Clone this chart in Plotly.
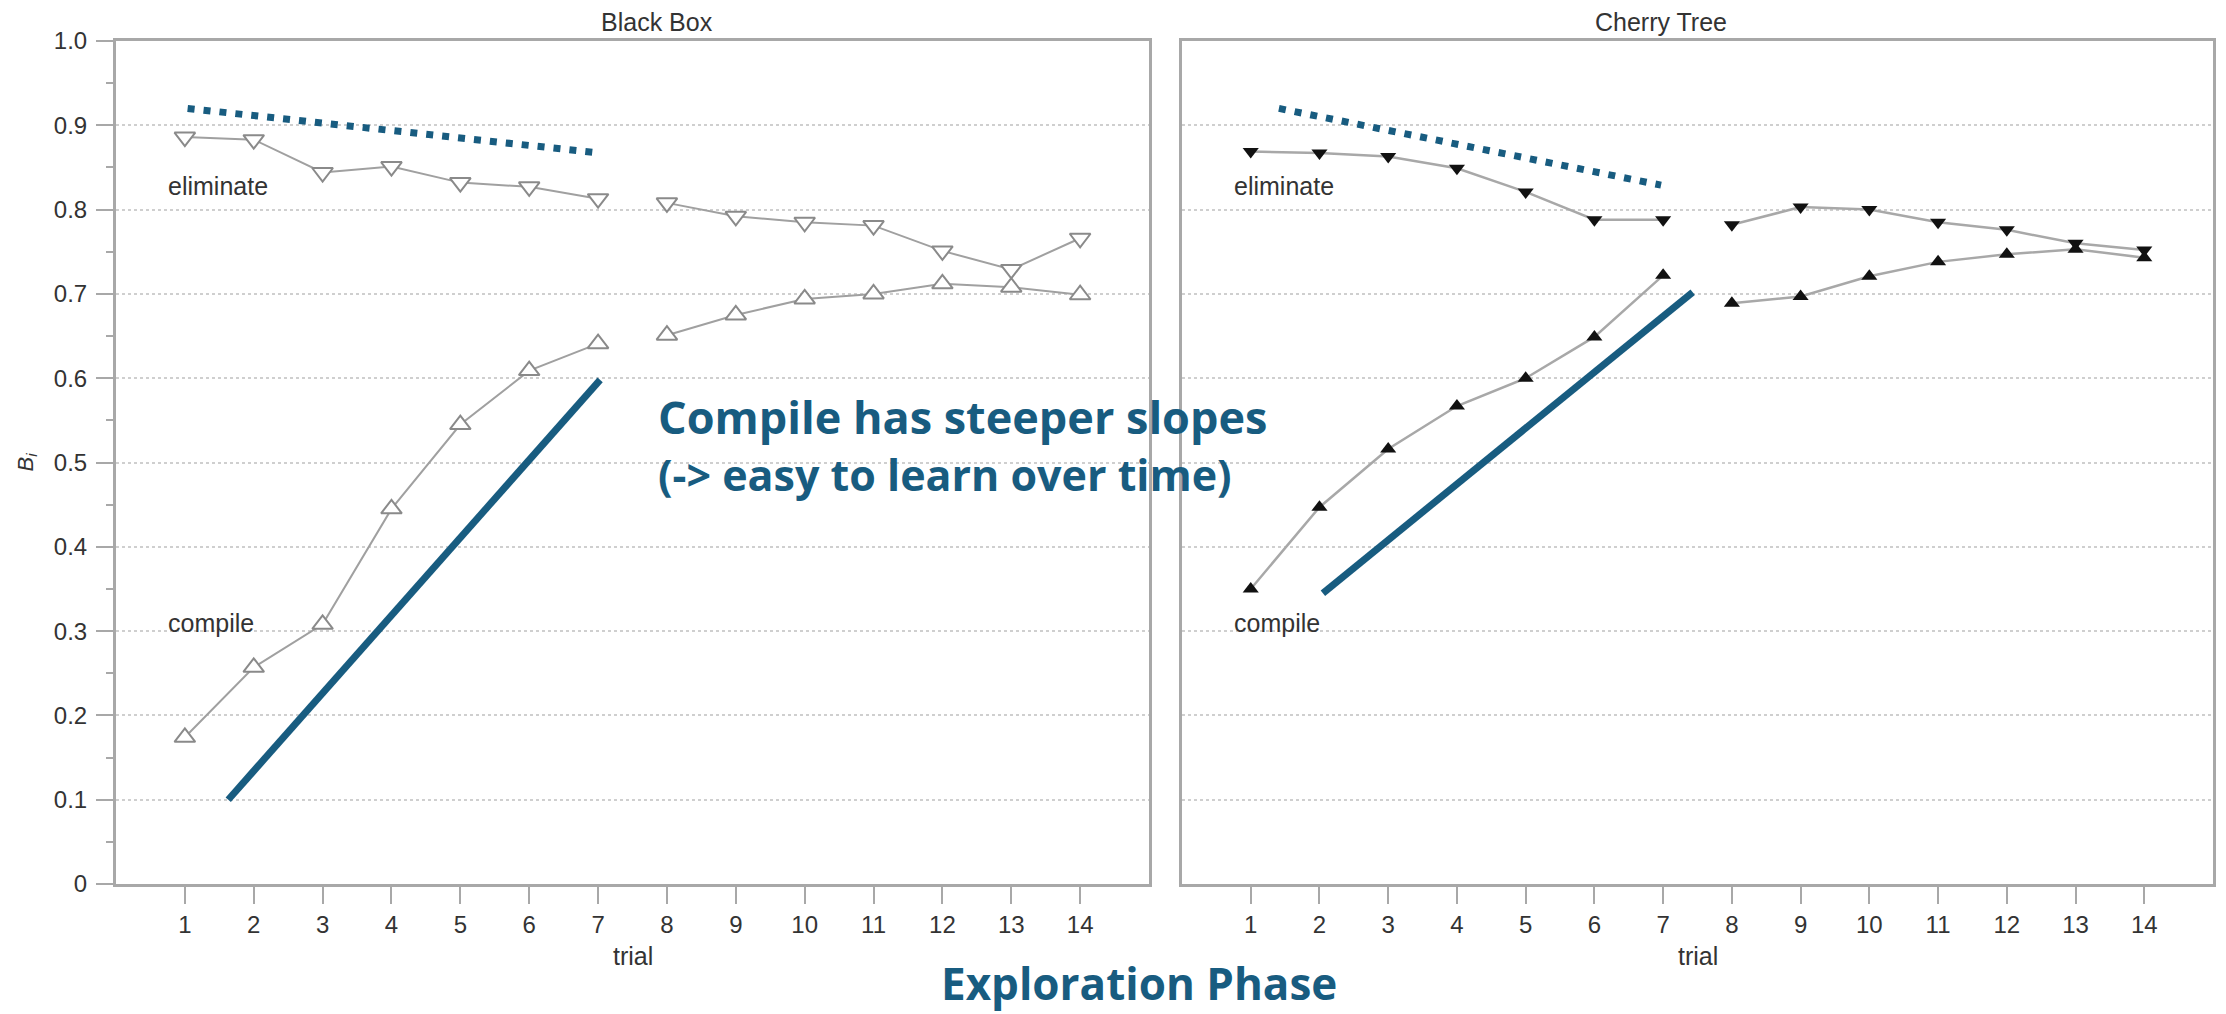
import plotly.graph_objects as go

# ---------------- data ----------------
trials = list(range(1, 15))
tick_y_vals = [0, 0.1, 0.2, 0.3, 0.4, 0.5, 0.6, 0.7, 0.8, 0.9, 1.0]
tick_y_text = ["0", "0.1", "0.2", "0.3", "0.4", "0.5", "0.6", "0.7", "0.8", "0.9", "1.0"]
minor_y_vals = [0.05, 0.15, 0.25, 0.35, 0.45, 0.55, 0.65, 0.75, 0.85, 0.95]

bb_eliminate = [0.886, 0.883, 0.844, 0.851, 0.832, 0.827, 0.813,
                0.808, 0.792, 0.785, 0.781, 0.751, 0.729, 0.766]
bb_compile = [0.174, 0.257, 0.308, 0.445, 0.545, 0.609, 0.641,
              0.651, 0.675, 0.694, 0.700, 0.712, 0.708, 0.699]
ct_eliminate = [0.869, 0.867, 0.863, 0.849, 0.821, 0.788, 0.788,
                0.782, 0.803, 0.800, 0.785, 0.776, 0.760, 0.752]
ct_compile = [0.350, 0.447, 0.516, 0.567, 0.600, 0.649, 0.722,
              0.689, 0.697, 0.721, 0.738, 0.747, 0.753, 0.743]

# hand-drawn trend strokes (x in trials, y in B_i)
bb_trend_x = [1.63, 7.03]
bb_trend_y = [0.100, 0.598]
bb_dotted_x = [1.04, 7.03]
bb_dotted_y = [0.920, 0.867]
ct_trend_x = [2.05, 7.43]
ct_trend_y = [0.345, 0.702]
ct_dotted_x = [1.41, 6.97]
ct_dotted_y = [0.920, 0.829]

panel_titles = ["Black Box", "Cherry Tree"]
series_labels = ["eliminate", "compile"]

BLUE = "#185C80"
GRAY_TXT = "#333333"
AXC = "#a8a8a8"

# the page body has an 8px margin; size the figure so it fits the window
PAGE_W, PAGE_H, OFF = 2226, 1014, 8
W, H = PAGE_W - 2 * OFF, PAGE_H - OFF


def px(x):
    return (x - OFF) / W


def py(y):
    return 1 - (y - OFF) / H


def split(vals):
    # phases: trials 1-7 and 8-14 drawn as separate segments
    return vals[:7] + [None] + vals[7:]


xs = trials[:7] + [None] + trials[7:]

fig = go.Figure()

# Black Box (open markers)
fig.add_trace(go.Scatter(x=xs, y=split(bb_eliminate), mode="lines+markers",
                         line=dict(color="#a0a0a0", width=2),
                         marker=dict(symbol="triangle-down", size=18, color="white",
                                     line=dict(color="#8a8a8a", width=2)),
                         xaxis="x", yaxis="y", showlegend=False))
fig.add_trace(go.Scatter(x=xs, y=split(bb_compile), mode="lines+markers",
                         line=dict(color="#a0a0a0", width=2),
                         marker=dict(symbol="triangle-up", size=18, color="white",
                                     line=dict(color="#8a8a8a", width=2)),
                         xaxis="x", yaxis="y", showlegend=False))
# Cherry Tree (filled markers)
fig.add_trace(go.Scatter(x=xs, y=split(ct_eliminate), mode="lines+markers",
                         line=dict(color="#a8a8a8", width=2.5),
                         marker=dict(symbol="triangle-down", size=14, color="#111111"),
                         xaxis="x2", yaxis="y2", showlegend=False))
fig.add_trace(go.Scatter(x=xs, y=split(ct_compile), mode="lines+markers",
                         line=dict(color="#a8a8a8", width=2.5),
                         marker=dict(symbol="triangle-up", size=14, color="#111111"),
                         xaxis="x2", yaxis="y2", showlegend=False))

# trend strokes
fig.add_trace(go.Scatter(x=bb_trend_x, y=bb_trend_y, mode="lines",
                         line=dict(color=BLUE, width=7), xaxis="x", yaxis="y",
                         showlegend=False))
fig.add_trace(go.Scatter(x=bb_dotted_x, y=bb_dotted_y, mode="lines",
                         line=dict(color=BLUE, width=7, dash="7px,9px"),
                         xaxis="x", yaxis="y", showlegend=False))
fig.add_trace(go.Scatter(x=ct_trend_x, y=ct_trend_y, mode="lines",
                         line=dict(color=BLUE, width=7), xaxis="x2", yaxis="y2",
                         showlegend=False))
fig.add_trace(go.Scatter(x=ct_dotted_x, y=ct_dotted_y, mode="lines",
                         line=dict(color=BLUE, width=7, dash="7px,9px"),
                         xaxis="x2", yaxis="y2", showlegend=False))

xdom1 = [px(116), px(1149)]
xdom2 = [px(1182), px(2213)]
ydom = [py(884), py(41)]

tickfont = dict(family="Liberation Sans, Arial, sans-serif", size=24, color=GRAY_TXT)

xaxis_common = dict(range=[0, 15], tickvals=trials, ticks="outside", ticklen=17,
                    tickwidth=2, tickcolor=AXC, showline=True, linecolor=AXC,
                    linewidth=3, mirror=True, showgrid=False, zeroline=False,
                    tickfont=tickfont, fixedrange=True, automargin=False)
yaxis_common = dict(range=[0, 1], tickvals=tick_y_vals, ticktext=tick_y_text,
                    showline=True, linecolor=AXC, linewidth=3, mirror=True,
                    showgrid=True, gridcolor="#cfcfcf", gridwidth=2, griddash="dot",
                    zeroline=False, tickfont=tickfont, fixedrange=True,
                    automargin=False)

fig.update_layout(
    width=W, height=H,
    autosize=False,
    margin=dict(l=0, r=0, t=0, b=0, pad=0, autoexpand=False),
    paper_bgcolor="white", plot_bgcolor="white",
    xaxis=dict(domain=xdom1, anchor="y", **xaxis_common),
    xaxis2=dict(domain=xdom2, anchor="y2", **xaxis_common),
    yaxis=dict(domain=ydom, anchor="x", ticks="outside", ticklen=17, tickwidth=2,
               tickcolor=AXC, ticklabelstandoff=4,
               minor=dict(tickvals=minor_y_vals, ticks="outside", ticklen=7,
                          tickwidth=2, tickcolor=AXC, showgrid=False),
               **yaxis_common),
    yaxis2=dict(domain=ydom, anchor="x2", ticks="", showticklabels=False,
                **yaxis_common),
)

label_font = dict(family="Liberation Sans, Arial, sans-serif", size=25, color=GRAY_TXT)
ann = []
# panel titles
ann.append(dict(text=panel_titles[0], x=px(657), y=py(22), xref="paper", yref="paper",
                showarrow=False, font=label_font, xanchor="center", yanchor="middle"))
ann.append(dict(text=panel_titles[1], x=px(1661), y=py(22), xref="paper", yref="paper",
                showarrow=False, font=label_font, xanchor="center", yanchor="middle"))
# axis titles
for xc in [(xdom1[0] + xdom1[1]) / 2, (xdom2[0] + xdom2[1]) / 2]:
    ann.append(dict(text="trial", x=xc, y=py(956), xref="paper", yref="paper",
                    showarrow=False, font=label_font, xanchor="center", yanchor="middle"))
ann.append(dict(text="<i>B</i><sub><i>i</i></sub>", x=px(27), y=(ydom[0] + ydom[1]) / 2,
                xref="paper", yref="paper", showarrow=False, textangle=-90,
                font=dict(family="Liberation Sans, Arial, sans-serif", size=22, color=GRAY_TXT),
                xanchor="center", yanchor="middle"))
# series labels
for xr, yr in [("x", "y"), ("x2", "y2")]:
    ann.append(dict(text=series_labels[0], x=1.48, y=0.828, xref=xr, yref=yr,
                    showarrow=False, font=label_font, xanchor="center", yanchor="middle"))
    ann.append(dict(text=series_labels[1], x=1.38, y=0.31, xref=xr, yref=yr,
                    showarrow=False, font=label_font, xanchor="center", yanchor="middle"))
# commentary
blue_font = dict(family="Open Sans, sans-serif", size=44, color=BLUE, weight="bold")
ann.append(dict(text="<b><span style='font-size:45px'>Compile has steeper slopes</span>"
                     "<br><span style='font-size:43px'>(-> easy to learn over time)</span></b>",
                x=px(656), y=py(445),
                xref="paper", yref="paper", showarrow=False, font=blue_font,
                xanchor="left", yanchor="middle", align="left"))
ann.append(dict(text="<b>Exploration Phase</b>", x=px(1139), y=py(983),
                xref="paper", yref="paper", showarrow=False, font=blue_font,
                xanchor="center", yanchor="middle"))

fig.update_layout(annotations=ann)
fig.write_html("out.html")
